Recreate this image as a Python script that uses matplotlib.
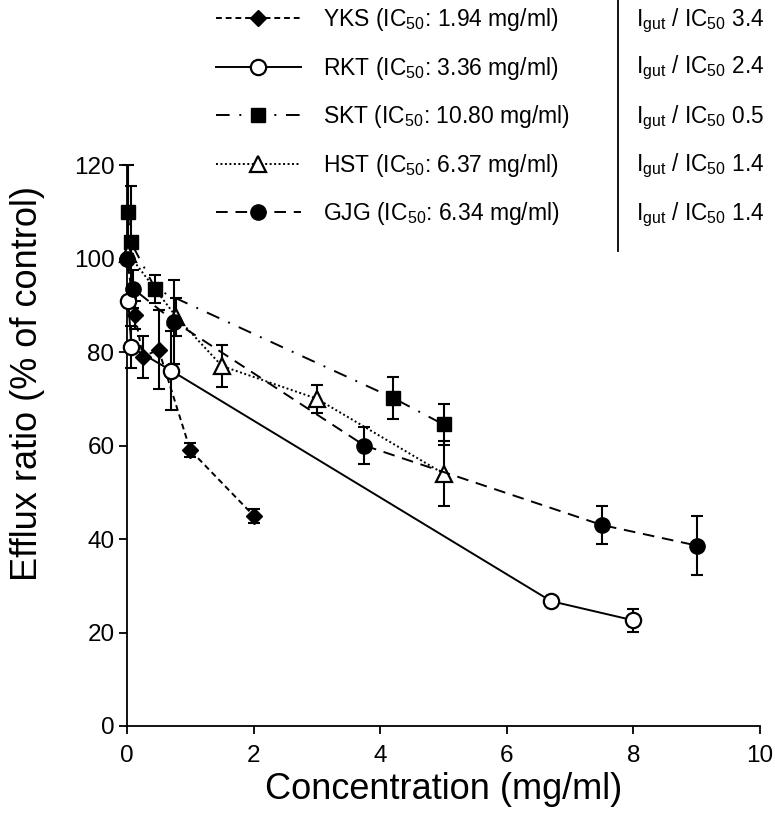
import matplotlib
matplotlib.use("Agg")
import matplotlib.pyplot as plt
from matplotlib.lines import Line2D

plt.rcParams['font.family'] = ['Liberation Sans', 'DejaVu Sans']
plt.rcParams['mathtext.fontset'] = 'custom'
plt.rcParams['mathtext.rm'] = 'Liberation Sans'
plt.rcParams['mathtext.it'] = 'Liberation Sans:italic'

# ---- data ----
yks_x = [0.0, 0.125, 0.25, 0.5, 1.0, 2.0]
yks_y = [100, 88, 79, 80.5, 59, 45]
yks_e = [0, 3, 4.5, 8.5, 1.5, 1.5]

rkt_x = [0.02, 0.07, 0.7, 6.7, 8.0]
rkt_y = [91, 81, 76, 26.7, 22.6]
rkt_e = [0, 4.5, 8.5, 0, 2.5]

skt_x = [0.01, 0.06, 0.45, 4.2, 5.0]
skt_y = [110, 103.5, 93.5, 70.2, 64.5]
skt_e = [10, 12, 3, 4.5, 4.3]

hst_x = [0.02, 0.78, 1.5, 3.0, 5.0]
hst_y = [101, 87.5, 77, 70, 54]
hst_e = [0, 4, 4.5, 3, 7]

gjg_x = [0.0, 0.1, 0.75, 3.75, 7.5, 9.0]
gjg_y = [100, 93.5, 86.5, 60, 43, 38.6]
gjg_e = [0, 4, 9, 4, 4, 6.3]

labels = [r'YKS (IC$_{\mathrm{50}}$: 1.94 mg/ml)',
          r'RKT (IC$_{\mathrm{50}}$: 3.36 mg/ml)',
          r'SKT (IC$_{\mathrm{50}}$: 10.80 mg/ml)',
          r'HST (IC$_{\mathrm{50}}$: 6.37 mg/ml)',
          r'GJG (IC$_{\mathrm{50}}$: 6.34 mg/ml)']
ratios = ['3.4', '2.4', '0.5', '1.4', '1.4']

xticks = [0, 2, 4, 6, 8, 10]
yticks = [0, 20, 40, 60, 80, 100, 120]

W, H = 775, 824
fig = plt.figure(figsize=(W / 100, H / 100), dpi=100)
ax = fig.add_axes([127 / W, (H - 726) / H, 633 / W, 561 / H])

lw = 1.4
series = [
    (yks_x, yks_y, yks_e, dict(marker='D', ms=8.5, mfc='black', mec='black', ls=(0, (3, 2)))),
    (rkt_x, rkt_y, rkt_e, dict(marker='o', ms=11, mfc='white', mec='black', mew=1.6, ls='-')),
    (skt_x, skt_y, skt_e, dict(marker='s', ms=10, mfc='black', mec='black', ls=(0, (7, 5, 1, 5)))),
    (hst_x, hst_y, hst_e, dict(marker='^', ms=11, mfc='white', mec='black', mew=1.6, ls=(0, (1, 1.3)))),
    (gjg_x, gjg_y, gjg_e, dict(marker='o', ms=11, mfc='black', mec='black', ls=(0, (6, 4)))),
]

handles = []
for i, (x, y, e, st) in enumerate(series):
    ax.errorbar(x, y, yerr=e, fmt='none', ecolor='black', elinewidth=1.5,
                capsize=4.5, capthick=1.5, clip_on=False, zorder=2 + i * 0.1)
    ln, = ax.plot(x, y, color='black', lw=lw, clip_on=False, zorder=3 + i * 0.1, **st)
    handles.append(ln)

ax.set_xlim(0, 10)
ax.set_ylim(0, 120)
ax.set_xticks(xticks)
ax.set_yticks(yticks)
for s in ['top', 'right']:
    ax.spines[s].set_visible(False)
for s in ['left', 'bottom']:
    ax.spines[s].set_linewidth(1.3)
ax.tick_params(direction='out', length=6, width=1.3, labelsize=17.5)
ax.tick_params(axis='y', pad=3)
ax.tick_params(axis='x', pad=8)
ax.set_xlabel('Concentration (mg/ml)', fontsize=26)
ax.set_ylabel('Efflux ratio (% of control)', fontsize=26)
ax.xaxis.set_label_coords(0.5, -0.082)
ax.yaxis.set_label_coords(-0.13, 0.61)

leg = fig.legend(handles, labels, loc='upper left', bbox_to_anchor=(216 / W, 1 - 6 / H),
                 frameon=False, fontsize=16.5, handlelength=3.7, handletextpad=0.95,
                 labelspacing=0.94, borderpad=0, borderaxespad=0)

fig.add_artist(Line2D([618 / W, 618 / W], [1, 1 - 251 / H], color='black', lw=1.3))

row_y = [21, 68, 118, 166, 215]
for yy, r in zip(row_y, ratios):
    fig.text(636 / W, 1 - yy / H, r'I$_{\mathrm{gut}}$ / IC$_{\mathrm{50}}$ ' + r,
             fontsize=16.3, va='center', ha='left')

fig.savefig('out.png', dpi=100)
